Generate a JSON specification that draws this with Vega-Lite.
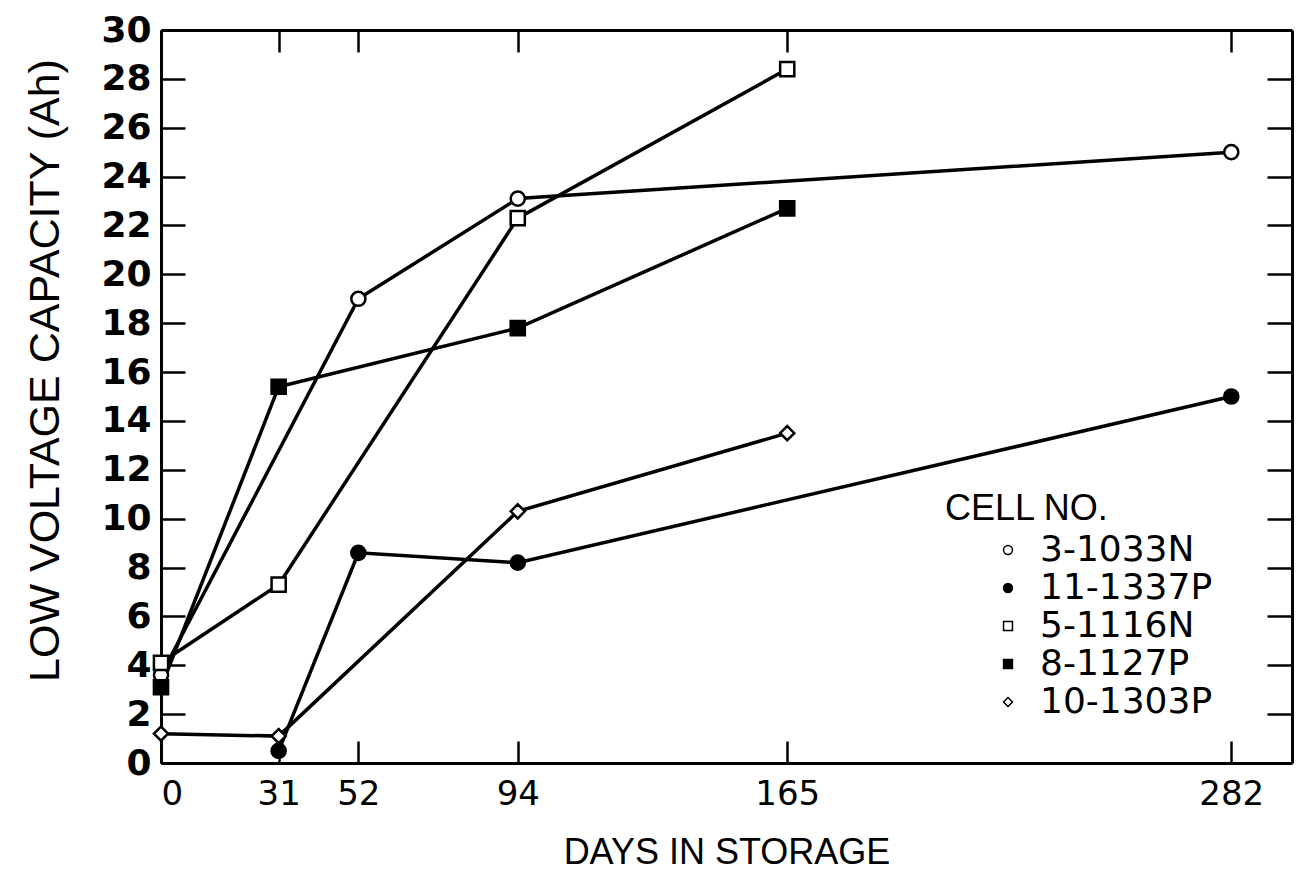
{
  "$schema": "https://vega.github.io/schema/vega-lite/v6.json",
  "width": 1131,
  "height": 733,
  "autosize": "none",
  "padding": {"left": 161, "top": 30, "right": 4, "bottom": 117},
  "background": "white",
  "config": {
    "view": {"stroke": null},
    "axis": {
      "domainColor": "black",
      "domainWidth": 3,
      "tickColor": "black",
      "tickWidth": 2.5,
      "labelColor": "black",
      "titleColor": "black",
      "grid": false
    }
  },
  "data": {
    "values": [
      {"cell": "3-1033N", "days": 0, "cap": 3.6},
      {"cell": "3-1033N", "days": 52, "cap": 19.0},
      {"cell": "3-1033N", "days": 94, "cap": 23.1},
      {"cell": "3-1033N", "days": 282, "cap": 25.0},
      {"cell": "11-1337P", "days": 31, "cap": 0.5},
      {"cell": "11-1337P", "days": 52, "cap": 8.6},
      {"cell": "11-1337P", "days": 94, "cap": 8.2},
      {"cell": "11-1337P", "days": 282, "cap": 15.0},
      {"cell": "5-1116N", "days": 0, "cap": 4.1},
      {"cell": "5-1116N", "days": 31, "cap": 7.3},
      {"cell": "5-1116N", "days": 94, "cap": 22.3},
      {"cell": "5-1116N", "days": 165, "cap": 28.4},
      {"cell": "8-1127P", "days": 0, "cap": 3.1},
      {"cell": "8-1127P", "days": 31, "cap": 15.4},
      {"cell": "8-1127P", "days": 94, "cap": 17.8},
      {"cell": "8-1127P", "days": 165, "cap": 22.7},
      {"cell": "10-1303P", "days": 0, "cap": 1.2},
      {"cell": "10-1303P", "days": 31, "cap": 1.1},
      {"cell": "10-1303P", "days": 94, "cap": 10.3},
      {"cell": "10-1303P", "days": 165, "cap": 13.5}
    ]
  },
  "resolve": {"axis": {"x": "independent", "y": "independent"}},
  "layer": [
    {
      "mark": {"type": "line", "color": "black", "strokeWidth": 3.5},
      "encoding": {
        "x": {
          "field": "days", "type": "quantitative",
          "scale": {"domain": [0, 298], "nice": false},
          "axis": {
            "orient": "bottom",
            "values": [0, 31, 52, 94, 165, 282],
            "title": "DAYS IN STORAGE",
            "titleFont": "Liberation Sans",
            "titleFontSize": 36,
            "titleFontWeight": "normal",
            "titlePadding": 24,
            "labelFont": "DejaVu Sans",
            "labelFontSize": 34,
            "tickSize": -22,
            "labelPadding": 36
          }
        },
        "y": {
          "field": "cap", "type": "quantitative",
          "scale": {"domain": [0, 30], "nice": false},
          "axis": {
            "orient": "left",
            "values": [0, 2, 4, 6, 8, 10, 12, 14, 16, 18, 20, 22, 24, 26, 28, 30],
            "title": "LOW VOLTAGE CAPACITY (Ah)",
            "titleFont": "Liberation Sans",
            "titleFontSize": 43,
            "titleFontWeight": "normal",
            "titlePadding": 33,
            "titleY": 340,
            "labelFont": "DejaVu Sans",
            "labelFontWeight": "bold",
            "labelFontSize": 36,
            "tickSize": -24,
            "labelPadding": 34
          }
        },
        "detail": {"field": "cell"}
      }
    },
    {
      "mark": {"type": "point", "filled": true, "stroke": "black", "strokeWidth": 2.5, "size": 200, "opacity": 1},
      "encoding": {
        "x": {
          "field": "days", "type": "quantitative",
          "axis": {
            "orient": "top",
            "values": [0, 31, 52, 94, 165, 282],
            "labels": false,
            "title": null,
            "tickSize": -22
          }
        },
        "y": {
          "field": "cap", "type": "quantitative",
          "axis": {
            "orient": "right",
            "values": [2, 4, 6, 8, 10, 12, 14, 16, 18, 20, 22, 24, 26, 28],
            "labels": false,
            "title": null,
            "tickSize": -25
          }
        },
        "shape": {
          "field": "cell", "type": "nominal",
          "scale": {
            "domain": ["3-1033N", "11-1337P", "5-1116N", "8-1127P", "10-1303P"],
            "range": ["circle", "circle", "square", "square", "diamond"]
          },
          "legend": {
            "title": "CELL NO.",
            "orient": "none",
            "legendX": 784,
            "legendY": 462,
            "titleFont": "Liberation Sans",
            "titleFontSize": 36,
            "titleFontWeight": "normal",
            "titleColor": "black",
            "titlePadding": 4,
            "labelFont": "DejaVu Sans",
            "labelFontSize": 36,
            "labelLimit": 400,
            "labelColor": "black",
            "labelOffset": 14,
            "symbolOffset": 45,
            "symbolSize": 80,
            "rowPadding": 2,
            "encode": {
              "symbols": {
                "update": {
                  "stroke": {"value": "black"},
                  "strokeWidth": {"value": 2}
                }
              }
            }
          }
        },
        "fill": {
          "field": "cell", "type": "nominal",
          "scale": {
            "domain": ["3-1033N", "11-1337P", "5-1116N", "8-1127P", "10-1303P"],
            "range": ["white", "black", "white", "black", "white"]
          },
          "legend": {
            "title": "CELL NO.",
            "orient": "none",
            "legendX": 784,
            "legendY": 462,
            "titleFont": "Liberation Sans",
            "titleFontSize": 36,
            "titleFontWeight": "normal",
            "titleColor": "black",
            "titlePadding": 4,
            "labelFont": "DejaVu Sans",
            "labelFontSize": 36,
            "labelLimit": 400,
            "labelColor": "black",
            "labelOffset": 14,
            "symbolOffset": 45,
            "symbolSize": 80,
            "rowPadding": 2,
            "encode": {
              "symbols": {
                "update": {
                  "stroke": {"value": "black"},
                  "strokeWidth": {"value": 2}
                }
              }
            }
          }
        }
      }
    }
  ]
}
